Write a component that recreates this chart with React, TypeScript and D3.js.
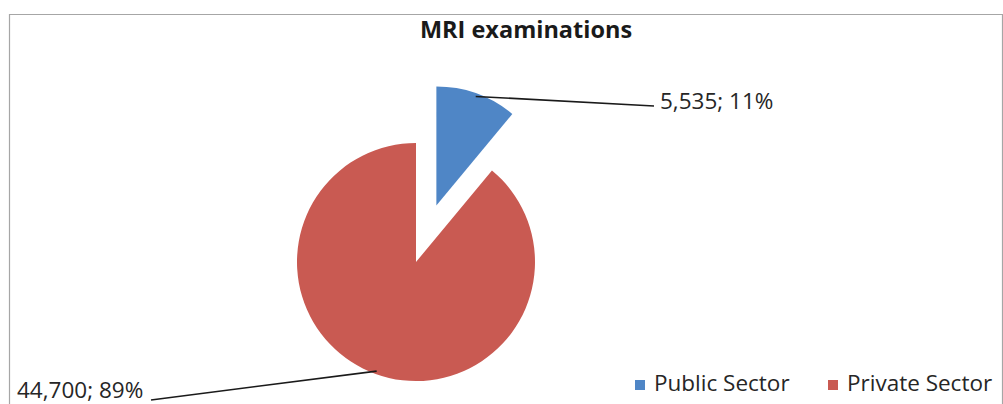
import React from "react";
import * as d3 from "d3";

const categories = ["Public Sector", "Private Sector"];
const values = [5535, 44700];
const colors = ["#4F86C6", "#C95A52"];
const title = "MRI examinations";

const W = 1003;
const H = 404;
const FONT = "'Open Sans', Lato, sans-serif";

export default function App() {
  const cx = 416;
  const cy = 262;
  const r = 119;
  const explode = 60;

  const pie = d3.pie<number>().sort(null).value((d) => d);
  const arcs = pie(values);
  const arcGen = d3.arc<d3.PieArcDatum<number>>().innerRadius(0).outerRadius(r);
  const total = d3.sum(values);
  const fmt = d3.format(",");

  const offsets = arcs.map((a, i) => {
    const mid = (a.startAngle + a.endAngle) / 2;
    const e = i === 0 ? explode : 0;
    return [Math.sin(mid) * e, -Math.cos(mid) * e];
  });

  const labelPos = [
    { x: 660, y: 103, anchor: "start" as const, lineEnd: [654, 106] },
    { x: 17, y: 392, anchor: "start" as const, lineEnd: [151, 400] },
  ];

  return (
    <svg
      width={W}
      height={H}
      style={{ position: "absolute", left: 0, top: 0, background: "#fff" }}
    >
      <rect x={0} y={0} width={W} height={H} fill="#fff" />
      <path d={`M9.5,${H} V14.5 H1002.5 V${H}`} fill="none" stroke="#A6A6A6" strokeWidth={1.2} />
      <text
        x={526}
        y={38}
        textAnchor="middle"
        fontFamily={FONT}
        fontWeight="bold"
        fontSize={23.5}
        fill="#1a1a1a"
      >
        {title}
      </text>
      {arcs.map((a, i) => (
        <path
          key={categories[i]}
          d={arcGen(a) || ""}
          transform={`translate(${cx + offsets[i][0]},${cy + offsets[i][1]})`}
          fill={colors[i]}
        />
      ))}
      {arcs.map((a, i) => {
        const mid = (a.startAngle + a.endAngle) / 2;
        const px = cx + offsets[i][0] + Math.sin(mid) * (r - 3);
        const py = cy + offsets[i][1] - Math.cos(mid) * (r - 3);
        const lp = labelPos[i];
        const pct = Math.round((values[i] / total) * 100);
        return (
          <g key={"lbl" + i}>
            <line
              x1={px}
              y1={py}
              x2={lp.lineEnd[0]}
              y2={lp.lineEnd[1]}
              stroke="#1a1a1a"
              strokeWidth={1.6}
            />
            <text
              x={lp.x}
              y={lp.y}
              dominantBaseline="middle"
              textAnchor={lp.anchor}
              fontFamily={FONT}
              fontSize={22.5}
              fill="#262626"
            >
              {`${fmt(values[i])}; ${pct}%`}
            </text>
          </g>
        );
      })}
      {categories.map((c, i) => {
        const lx = [635, 828][i];
        return (
          <g key={"leg" + c}>
            <rect x={lx} y={380} width={10} height={10} fill={colors[i]} />
            <text
              x={lx + 19}
              y={385}
              dominantBaseline="middle"
              fontFamily={FONT}
              fontSize={22.5}
              fill="#262626"
            >
              {c}
            </text>
          </g>
        );
      })}
    </svg>
  );
}
